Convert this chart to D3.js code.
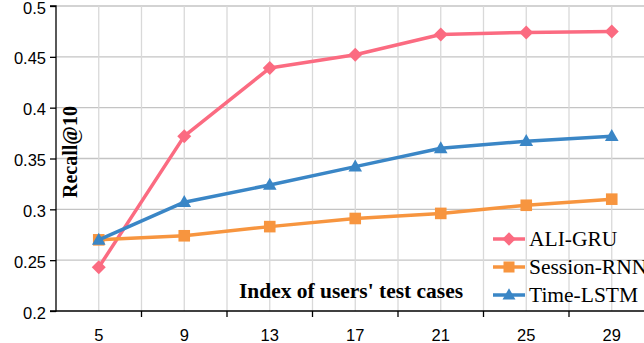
<!DOCTYPE html>
<html><head><meta charset="utf-8">
<script src="https://cdn.jsdelivr.net/npm/d3@7"></script>
<style>html,body{margin:0;padding:0;background:#fff;overflow:hidden}</style>
</head><body><svg id="c" width="644" height="343"></svg>
<script>
const categories = ["5","9","13","17","21","25","29"];
const aliGru = [0.243,0.372,0.439,0.452,0.472,0.474,0.475];
const sessionRnn = [0.270,0.274,0.283,0.291,0.296,0.304,0.310];
const timeLstm = [0.270,0.307,0.324,0.342,0.360,0.367,0.372];
const yTicks = [0.2,0.25,0.3,0.35,0.4,0.45,0.5];
const seriesNames = ["ALI-GRU","Session-RNN","Time-LSTM"];

const series = [
  {name:seriesNames[0], values:aliGru, color:"#fb6b81", marker:"diamond"},
  {name:seriesNames[1], values:sessionRnn, color:"#f7953f", marker:"square"},
  {name:seriesNames[2], values:timeLstm, color:"#3a86c6", marker:"triangle"}
];

const svg = d3.select("#c");
const pLeft=56, pTop=6, pBottom=311, pRight=654.5;
const x = d3.scaleBand().domain(categories).range([pLeft,pRight]);
const y = d3.scaleLinear().domain([0.2,0.5]).range([pBottom,pTop]);
const sans = "Liberation Sans, Arial, sans-serif";
const serif = "Liberation Serif, Times New Roman, serif";

// horizontal gridlines
svg.append("g").selectAll("line").data(yTicks.slice(1)).join("line")
  .attr("x1",pLeft).attr("x2",644).attr("y1",d=>y(d)).attr("y2",d=>y(d))
  .attr("stroke","#c4c4c4").attr("stroke-width",1.3);
// vertical gridlines at centres and boundaries
const bounds = categories.slice(1).map(c=>x(c)).concat([x(categories[6])+x.bandwidth()]);
const centers = categories.map(c=>x(c)+x.bandwidth()/2);
svg.append("g").selectAll("line").data(bounds.concat(centers)).join("line")
  .attr("x1",d=>d).attr("x2",d=>d).attr("y1",pTop).attr("y2",pBottom)
  .attr("stroke","#d9d9d9").attr("stroke-width",1.3);

// axes
const yAxis = d3.axisLeft(y).tickValues(yTicks).tickSize(6).tickFormat(d=>String(+d.toFixed(2)));
const gy = svg.append("g").attr("transform",`translate(${pLeft},0)`).call(yAxis);
gy.select(".domain").attr("stroke","#000").attr("stroke-width",1.3).attr("d",`M-6,${pTop}H0V${pBottom}H-6`);
gy.selectAll(".tick line").attr("stroke","#000").attr("stroke-width",1.3);
gy.selectAll("text").attr("font-family",sans).attr("font-size","16.5px").attr("fill","#000")
  .attr("x",-10).attr("y",1.8);

const xAxis = d3.axisBottom(x).tickSize(0);
const gx = svg.append("g").attr("transform",`translate(0,${pBottom})`).call(xAxis);
gx.select(".domain").attr("stroke","#000").attr("stroke-width",1.3).attr("d",`M${pLeft},0H${pRight}`);
gx.selectAll("text").attr("font-family",sans).attr("font-size","16.5px").attr("fill","#000").attr("y",30).attr("dy","0");
gx.append("g").selectAll("line").data(bounds).join("line")
  .attr("x1",d=>d).attr("x2",d=>d).attr("y1",0).attr("y2",6).attr("stroke","#000").attr("stroke-width",1.3);

// markers
function markerPath(type, k){
  const p = d3.path();
  if(type==="diamond"){ const r=7*k; p.moveTo(0,-r);p.lineTo(r,0);p.lineTo(0,r);p.lineTo(-r,0);p.closePath(); }
  else if(type==="square"){ const r=5.8*k; p.rect(-r,-r,2*r,2*r); }
  else { const w=6.8*k, h=12*k; p.moveTo(0,-h*0.6);p.lineTo(w,h*0.4);p.lineTo(-w,h*0.4);p.closePath(); }
  return p.toString();
}
const line = d3.line().x((d,i)=>x(categories[i])+x.bandwidth()/2).y(d=>y(d));
series.forEach(sr=>{
  const g = svg.append("g");
  g.append("path").datum(sr.values).attr("d",line).attr("fill","none")
    .attr("stroke",sr.color).attr("stroke-width",3.5).attr("stroke-linejoin","round");
  g.selectAll("path.m").data(sr.values).join("path").attr("class","m")
    .attr("transform",(d,i)=>`translate(${x(categories[i])+x.bandwidth()/2},${y(d)})`)
    .attr("d",markerPath(sr.marker,1)).attr("fill",sr.color);
});

// axis titles
svg.append("text").attr("transform",`translate(77,152) rotate(-90)`)
  .attr("text-anchor","middle").attr("font-family",serif)
  .attr("font-weight","bold").attr("font-size","20px").text("Recall@10");
svg.append("text").attr("x",351).attr("y",298).attr("text-anchor","middle")
  .attr("font-family",serif).attr("font-weight","bold").attr("font-size","20px")
  .attr("textLength",224).attr("lengthAdjust","spacingAndGlyphs").text("Index of users' test cases");

// legend
const lg = svg.append("g");
series.forEach((sr,i)=>{
  const yy = 239 + i*28;
  lg.append("line").attr("x1",493).attr("x2",525).attr("y1",yy).attr("y2",yy)
    .attr("stroke",sr.color).attr("stroke-width",3.5);
  lg.append("path").attr("transform",`translate(509,${yy})`).attr("d",markerPath(sr.marker,0.95)).attr("fill",sr.color);
  lg.append("text").attr("x",529).attr("y",yy+7).attr("font-family",serif)
    .attr("font-size","21.5px").attr("fill","#000").text(sr.name);
});
</script></body></html>
